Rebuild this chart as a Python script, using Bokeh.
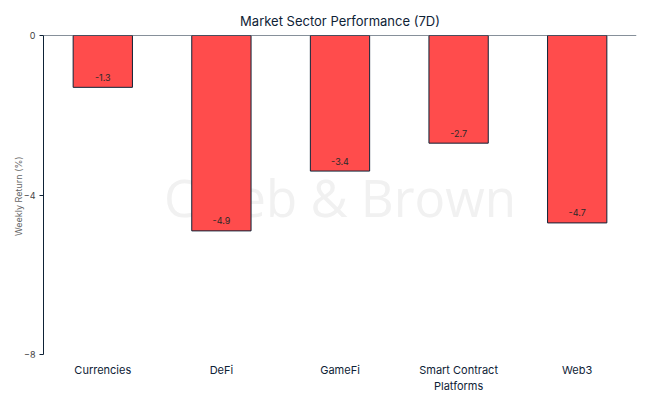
from bokeh.plotting import figure
from bokeh.models import ColumnDataSource, Range1d, FixedTicker, LabelSet, Span
from bokeh.core.properties import value
from bokeh.embed import file_html
from bokeh.resources import INLINE

categories = ["Currencies", "DeFi", "GameFi", "Smart Contract\nPlatforms", "Web3"]
returns = [-1.3, -4.9, -3.4, -2.7, -4.7]
labels = ["-1.3", "-4.9", "-3.4", "-2.7", "-4.7"]
y_ticks = [0, -4, -8]
title = "Market Sector Performance (7D)"
watermark = "Caleb & Brown"

NAVY = "#0e2236"
FONT = "Inter"

src = ColumnDataSource(dict(cat=categories, val=returns, lab=labels,
                            lab_y=[v + 0.25 for v in returns]))

p = figure(x_range=categories, y_range=Range1d(-8, 0), width=648, height=396,
           output_backend="svg", toolbar_location=None, title=title,
           min_border_left=43, min_border_right=12, min_border_top=35, min_border_bottom=38)
p.title.align = "center"
p.title.text_font = FONT
p.title.text_font_style = "normal"
p.title.text_font_size = "13px"
p.title.text_color = NAVY
p.title.vertical_align = "top"
p.title.standoff = 10
p.outline_line_color = None
p.grid.visible = False

# watermark
p.text(x=[categories[2]], y=[-4.04], text=[watermark], text_font=value("Open Sans"),
       text_font_size="51px", text_color="#f1f1f1", text_align="center",
       text_baseline="middle")

p.vbar(x="cat", top="val", bottom=0, width=0.5, source=src, fill_color="#ff4c4c",
       line_color=NAVY, line_width=1)

p.add_layout(LabelSet(x="cat", y="lab_y", text="lab", source=src, text_align="center",
                      text_baseline="middle", text_font=value(FONT), text_font_size="9px",
                      text_color="#2a2a2a"))

p.add_layout(Span(location=0, dimension="width", line_color=NAVY, line_width=1.2))

xa = p.xaxis[0]
xa.axis_line_color = None
xa.major_tick_line_color = None
xa.major_label_text_font = FONT
xa.major_label_text_font_size = "11px"
xa.major_label_text_color = NAVY
xa.major_label_standoff = 2

ya = p.yaxis[0]
ya.ticker = FixedTicker(ticks=y_ticks)
ya.axis_label = "Weekly  Return (%)"
ya.axis_label_text_font = FONT
ya.axis_label_text_font_size = "9px"
ya.axis_label_text_font_style = "normal"
ya.axis_label_text_color = "#666666"
ya.axis_label_standoff = -3
ya.major_label_text_font = FONT
ya.major_label_text_font_size = "9px"
ya.major_label_text_color = "#444444"
ya.major_label_standoff = 4
ya.axis_line_color = NAVY
ya.major_tick_line_color = NAVY
ya.major_tick_in = 0
ya.major_tick_out = 4
ya.minor_tick_line_color = None

open("out.html", "w").write(file_html(p, INLINE))
